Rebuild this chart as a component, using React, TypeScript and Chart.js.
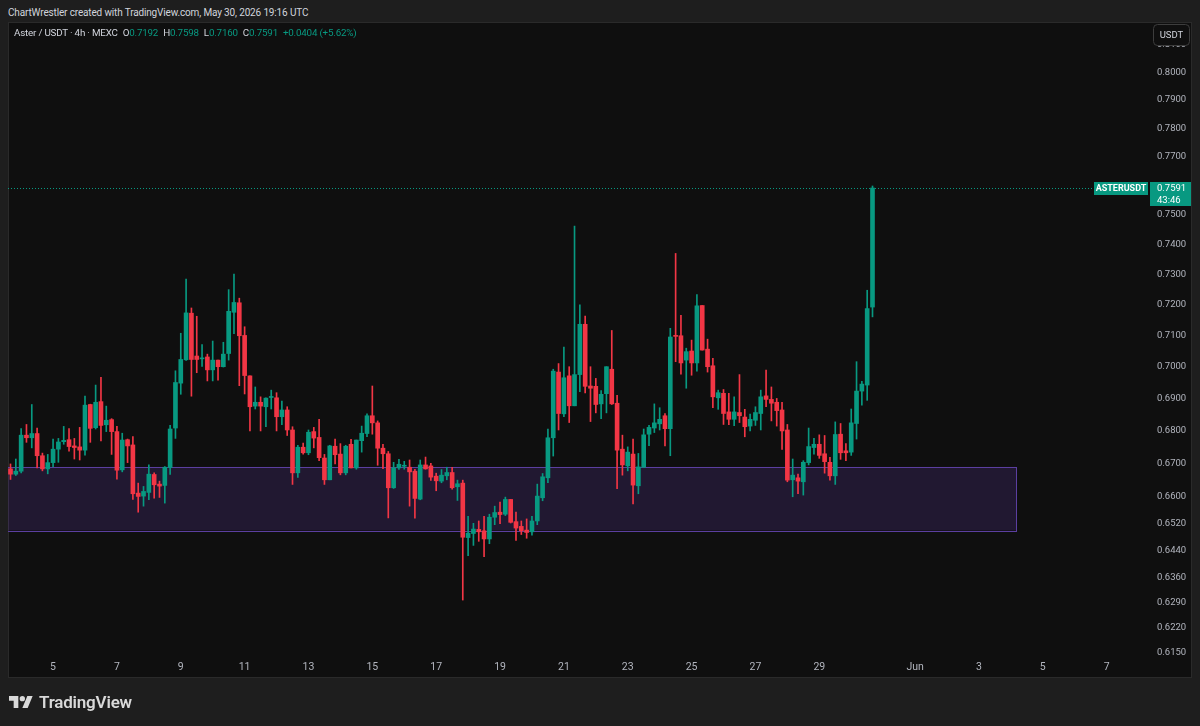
import React, { useEffect, useRef } from "react";
import { Chart, registerables } from "chart.js";

Chart.register(...registerables);

const UP = "#089981";
const DOWN = "#f23645";
const FONT = "Roboto, 'Noto Sans', sans-serif";

// 4h candles, ASTER/USDT (MEXC), May 3 16:00 -> May 30 16:00
const opens = [
  0.6683, 0.6667, 0.6676, 0.6786, 0.6778, 0.6791, 0.6723, 0.6683, 0.6702, 0.6743,
  0.6766, 0.6772, 0.6753, 0.675, 0.674, 0.6881, 0.6809, 0.689, 0.6818, 0.6834,
  0.6797, 0.668, 0.6772, 0.6756, 0.661, 0.6601, 0.6612, 0.6666, 0.6637, 0.6633,
  0.6687, 0.6808, 0.6948, 0.7022, 0.7172, 0.7034, 0.7025, 0.7031, 0.699, 0.7021,
  0.7, 0.7042, 0.7175, 0.7206, 0.71, 0.6971, 0.6876, 0.6888, 0.6874, 0.6903,
  0.6902, 0.6843, 0.6864, 0.6802, 0.6671, 0.6749, 0.6732, 0.6797, 0.6779, 0.6716,
  0.665, 0.6752, 0.6728, 0.6671, 0.6758, 0.6686, 0.6769, 0.6791, 0.6846, 0.6824,
  0.6746, 0.6729, 0.6626, 0.6686, 0.6691, 0.6688, 0.6676, 0.6592, 0.6695, 0.6692,
  0.6661, 0.6646, 0.6662, 0.6672, 0.6629, 0.664, 0.6478, 0.649, 0.6502, 0.6498,
  0.6474, 0.6538, 0.6553, 0.6547, 0.6591, 0.6525, 0.6511, 0.65, 0.6495, 0.6527,
  0.6596, 0.6656, 0.6778, 0.6983, 0.6852, 0.6971, 0.6877, 0.6975, 0.7136, 0.6939,
  0.6938, 0.6883, 0.6915, 0.6992, 0.6885, 0.6743, 0.6692, 0.6728, 0.6632, 0.6688,
  0.6789, 0.6808, 0.6821, 0.6846, 0.6806, 0.71, 0.7099, 0.7021, 0.705, 0.7012,
  0.7197, 0.7056, 0.7003, 0.6902, 0.6916, 0.6858, 0.6835, 0.6856, 0.6842, 0.6814,
  0.6832, 0.6853, 0.6908, 0.6897, 0.6888, 0.6864, 0.6802, 0.665, 0.6656, 0.6644,
  0.6702, 0.6748, 0.6758, 0.6729, 0.6703, 0.6662, 0.6789, 0.6738, 0.6734, 0.6822,
  0.6923, 0.6942, 0.7192,
];

const highs = [
  0.6698, 0.6713, 0.6806, 0.6819, 0.6881, 0.6808, 0.6731, 0.6727, 0.6774, 0.6776,
  0.6813, 0.6806, 0.6776, 0.681, 0.6907, 0.6882, 0.6942, 0.6966, 0.6876, 0.6837,
  0.6813, 0.6792, 0.6774, 0.6782, 0.664, 0.663, 0.6695, 0.6671, 0.6646, 0.669,
  0.6816, 0.6987, 0.7107, 0.7284, 0.7189, 0.7162, 0.7071, 0.704, 0.7082, 0.7021,
  0.7078, 0.7249, 0.73, 0.7221, 0.7128, 0.6971, 0.6936, 0.6905, 0.6902, 0.6926,
  0.6918, 0.6892, 0.6874, 0.6812, 0.6755, 0.6762, 0.6802, 0.681, 0.6835, 0.6727,
  0.6755, 0.6774, 0.676, 0.6755, 0.6773, 0.6771, 0.6814, 0.6852, 0.6939, 0.683,
  0.6758, 0.6736, 0.6703, 0.6712, 0.6706, 0.671, 0.6682, 0.671, 0.6719, 0.67,
  0.667, 0.6681, 0.6688, 0.6688, 0.6649, 0.6649, 0.6541, 0.652, 0.6527, 0.6541,
  0.6547, 0.6571, 0.6583, 0.6598, 0.6591, 0.6553, 0.6527, 0.6533, 0.6541, 0.6637,
  0.6669, 0.6805, 0.6992, 0.701, 0.7063, 0.7, 0.7461, 0.7199, 0.7163, 0.7,
  0.6963, 0.6925, 0.7, 0.7116, 0.691, 0.6786, 0.675, 0.6774, 0.673, 0.6805,
  0.6816, 0.6883, 0.6871, 0.6853, 0.7123, 0.7369, 0.7165, 0.7059, 0.7085, 0.7233,
  0.7197, 0.7088, 0.7027, 0.6926, 0.6928, 0.6916, 0.6905, 0.6975, 0.6866, 0.6851,
  0.6874, 0.6926, 0.6989, 0.6936, 0.69, 0.6888, 0.6819, 0.6713, 0.6667, 0.6708,
  0.6808, 0.6776, 0.6787, 0.6785, 0.6718, 0.6827, 0.6822, 0.676, 0.6867, 0.7016,
  0.6954, 0.7247, 0.7598,
];

const lows = [
  0.6651, 0.6663, 0.6671, 0.6764, 0.6747, 0.6686, 0.6677, 0.6668, 0.6689, 0.6703,
  0.6758, 0.6737, 0.6713, 0.671, 0.6725, 0.6764, 0.6805, 0.6768, 0.6797, 0.6727,
  0.6652, 0.6674, 0.6702, 0.6591, 0.6553, 0.6571, 0.659, 0.6595, 0.6597, 0.658,
  0.6666, 0.6776, 0.6913, 0.702, 0.6907, 0.6981, 0.7001, 0.6955, 0.6955, 0.6957,
  0.6999, 0.7021, 0.7106, 0.694, 0.6914, 0.6799, 0.6867, 0.6799, 0.6812, 0.6867,
  0.6799, 0.6818, 0.6785, 0.6636, 0.6657, 0.6728, 0.6726, 0.6747, 0.6708, 0.6636,
  0.665, 0.6698, 0.6665, 0.6665, 0.6686, 0.6682, 0.6734, 0.6781, 0.6789, 0.6694,
  0.6684, 0.6536, 0.6624, 0.6681, 0.6682, 0.6571, 0.6535, 0.659, 0.6682, 0.6648,
  0.6617, 0.6641, 0.665, 0.6622, 0.6588, 0.6297, 0.6425, 0.6455, 0.6467, 0.6422,
  0.646, 0.6516, 0.6519, 0.6543, 0.6521, 0.647, 0.6487, 0.6476, 0.6485, 0.6516,
  0.6587, 0.6641, 0.6722, 0.6802, 0.6843, 0.6825, 0.6877, 0.6921, 0.6917, 0.6828,
  0.6855, 0.6837, 0.6855, 0.6881, 0.6623, 0.6664, 0.6677, 0.6578, 0.6608, 0.6688,
  0.6754, 0.6794, 0.6802, 0.6753, 0.6723, 0.7016, 0.6976, 0.6932, 0.6973, 0.6986,
  0.7053, 0.6983, 0.6871, 0.6866, 0.6819, 0.6818, 0.6815, 0.6825, 0.6781, 0.6799,
  0.6816, 0.6802, 0.6874, 0.683, 0.6814, 0.6742, 0.6644, 0.6599, 0.6608, 0.6604,
  0.6695, 0.6728, 0.6715, 0.667, 0.6649, 0.6636, 0.6712, 0.6708, 0.6724, 0.6774,
  0.6879, 0.6894, 0.716,
];

const closes = [
  0.6667, 0.6676, 0.6786, 0.6778, 0.6791, 0.6723, 0.6683, 0.6702, 0.6743, 0.6765,
  0.677, 0.6751, 0.6748, 0.674, 0.6879, 0.6807, 0.6888, 0.6816, 0.6832, 0.6797,
  0.6679, 0.6771, 0.6753, 0.6608, 0.66, 0.6615, 0.6667, 0.6635, 0.6631, 0.6688,
  0.6805, 0.695, 0.7023, 0.7173, 0.7023, 0.7023, 0.7027, 0.699, 0.7021, 0.7,
  0.704, 0.7178, 0.7207, 0.7099, 0.6972, 0.6874, 0.6888, 0.6876, 0.6901, 0.6905,
  0.6843, 0.6864, 0.6802, 0.6671, 0.6749, 0.6732, 0.6795, 0.6777, 0.6717, 0.665,
  0.6753, 0.6726, 0.6671, 0.6752, 0.6686, 0.6771, 0.6792, 0.6846, 0.6824, 0.6746,
  0.6729, 0.6626, 0.6686, 0.6697, 0.6692, 0.6674, 0.6594, 0.6695, 0.6683, 0.6658,
  0.6647, 0.6664, 0.6672, 0.6626, 0.6638, 0.6479, 0.6491, 0.6503, 0.6495, 0.6474,
  0.6538, 0.6552, 0.6546, 0.6591, 0.6523, 0.6506, 0.6498, 0.6493, 0.6527, 0.6601,
  0.6659, 0.6778, 0.6986, 0.6853, 0.6965, 0.6877, 0.6975, 0.7136, 0.6938, 0.6932,
  0.6881, 0.6913, 0.7, 0.6883, 0.674, 0.6695, 0.6734, 0.6634, 0.6689, 0.6787,
  0.681, 0.6824, 0.6835, 0.6806, 0.7095, 0.7097, 0.7012, 0.7048, 0.7012, 0.7196,
  0.7053, 0.7, 0.6905, 0.6918, 0.6853, 0.6835, 0.6858, 0.6846, 0.6812, 0.6835,
  0.6856, 0.6905, 0.6897, 0.6885, 0.6862, 0.6799, 0.6649, 0.6664, 0.6646, 0.6703,
  0.6751, 0.6758, 0.6724, 0.6705, 0.6662, 0.6788, 0.6732, 0.6732, 0.6824, 0.6923,
  0.6945, 0.7187, 0.7591,
];

// date ticks (candle index of day start) and their labels
const dateTickIndex = [8, 20, 32, 44, 56, 68, 80, 92, 104, 116, 128, 140, 152, 170, 182, 194, 206];
const dateTickLabels = ["5", "7", "9", "11", "13", "15", "17", "19", "21", "23", "25", "27", "29", "Jun", "3", "5", "7"];

// price axis tick values
const priceTicks = [
  0.615, 0.622, 0.629, 0.636, 0.644, 0.652, 0.66, 0.67, 0.68, 0.69, 0.7, 0.71, 0.72, 0.73, 0.74, 0.75,
  0.77, 0.78, 0.79, 0.8, 0.81,
];

// visible ranges
const indexRange = [-0.47, 213.4];
const priceRange = [0.6142, 0.8155];

// support zone (purple box)
const zonePriceRange = [0.6499, 0.6689];
const zoneIndexRange = [-10, 189.1];

const lastPrice = 0.7591;
const countdown = "43:46";
const symbolLabel = "ASTERUSDT";

const overlayPlugin = {
  id: "tvOverlay",
  beforeDatasetsDraw(chart: any) {
    const { ctx, chartArea, scales } = chart;
    const xs = scales.x;
    const ys = scales.y;
    ctx.save();
    ctx.beginPath();
    ctx.rect(chartArea.left, chartArea.top, chartArea.right - chartArea.left, chartArea.bottom - chartArea.top);
    ctx.clip();
    const x0 = xs.getPixelForValue(zoneIndexRange[0]);
    const x1 = xs.getPixelForValue(zoneIndexRange[1]);
    const y0 = ys.getPixelForValue(zonePriceRange[1]);
    const y1 = ys.getPixelForValue(zonePriceRange[0]);
    ctx.fillStyle = "rgba(103,58,183,0.2)";
    ctx.fillRect(x0, y0, x1 - x0, y1 - y0);
    ctx.strokeStyle = "#5b3fa0";
    ctx.lineWidth = 1;
    ctx.strokeRect(Math.round(x0) + 0.5, Math.round(y0) + 0.5, Math.round(x1 - x0), Math.round(y1 - y0));

    const yl = Math.round(ys.getPixelForValue(lastPrice)) + 0.5;
    ctx.setLineDash([1, 2]);
    ctx.strokeStyle = UP;
    ctx.beginPath();
    ctx.moveTo(chartArea.left, yl);
    ctx.lineTo(chartArea.right, yl);
    ctx.stroke();
    ctx.restore();
  },
  afterDraw(chart: any) {
    const { ctx, scales } = chart;
    const ys = scales.y;
    const y = ys.getPixelForValue(lastPrice);
    const top = Math.round(y - 6);
    ctx.save();
    ctx.fillStyle = UP;
    ctx.fillRect(1094, top, 54, 13);
    ctx.fillRect(1150, top, 41, 24);
    ctx.fillStyle = "#ffffff";
    ctx.textBaseline = "middle";
    ctx.textAlign = "center";
    ctx.font = `bold 9px ${FONT}`;
    ctx.fillText(symbolLabel, 1121, top + 7);
    ctx.textAlign = "left";
    ctx.font = `9.5px ${FONT}`;
    ctx.fillText(lastPrice.toFixed(4), 1157, top + 7);
    ctx.fillText(countdown, 1157, top + 18.5);

    // currency button
    ctx.fillStyle = "#0f0f0f";
    ctx.strokeStyle = "#3d3d3d";
    ctx.lineWidth = 1;
    ctx.beginPath();
    (ctx as any).roundRect(1153.5, 24.5, 36, 21, 4);
    ctx.fill();
    ctx.stroke();
    ctx.fillStyle = "#d1d4dc";
    ctx.textAlign = "center";
    ctx.font = `9.5px ${FONT}`;
    ctx.fillText("USDT", 1171.5, 35.5);
    ctx.restore();
  },
};

export default function App() {
  const ref = useRef<HTMLCanvasElement>(null);

  useEffect(() => {
    const colors = closes.map((c, i) => (c >= opens[i] ? UP : DOWN));
    const chart = new Chart(ref.current as HTMLCanvasElement, {
      type: "bar",
      data: {
        datasets: [
          {
            label: "body",
            data: opens.map((o, i) => ({ x: i, y: [o, closes[i]] })) as any,
            backgroundColor: colors,
            barThickness: 4,
            minBarLength: 1,
            grouped: false,
            order: 0,
          } as any,
          {
            label: "wick",
            data: lows.map((l, i) => ({ x: i, y: [l, highs[i]] })) as any,
            backgroundColor: colors,
            barThickness: 1,
            grouped: false,
            order: 1,
          } as any,
        ],
      },
      options: {
        animation: false,
        responsive: false,
        devicePixelRatio: 1,
        layout: { padding: { left: 8, right: 8, top: 30, bottom: 48 } },
        plugins: { legend: { display: false }, tooltip: { enabled: false } },
        scales: {
          x: {
            type: "linear",
            min: indexRange[0],
            max: indexRange[1],
            offset: false,
            grid: { display: false, drawTicks: false },
            border: { display: false },
            afterBuildTicks: (s: any) => {
              s.ticks = dateTickIndex.map((v) => ({ value: v }));
            },
            afterFit: (s: any) => {
              s.height = 23;
            },
            ticks: {
              autoSkip: false,
              maxRotation: 0,
              minRotation: 0,
              padding: 6,
              color: "#b2b5be",
              font: { family: FONT, size: 10.5 },
              callback: (_v: any, i: number) => dateTickLabels[i],
            },
          },
          y: {
            type: "logarithmic",
            position: "right",
            min: priceRange[0],
            max: priceRange[1],
            bounds: "data",
            grid: { display: false, drawTicks: false },
            border: { display: false },
            afterBuildTicks: (s: any) => {
              s.ticks = priceTicks.map((v) => ({ value: v }));
            },
            afterFit: (s: any) => {
              s.width = 46;
            },
            ticks: {
              autoSkip: false,
              padding: 11,
              crossAlign: "near",
              color: "#b2b5be",
              font: { family: FONT, size: 9.5 },
              callback: (v: any) => Number(v).toFixed(4),
            },
          },
        },
      } as any,
      plugins: [overlayPlugin],
    });
    return () => chart.destroy();
  }, []);

  const labelStyle = { color: "#d1d4dc" };
  const valStyle = { color: UP };

  return (
    <div
      style={{
        position: "absolute",
        left: 0,
        top: 0,
        width: 1200,
        height: 726,
        background: "#1e1e1e",
        overflow: "hidden",
        fontFamily: FONT,
      }}
    >
      <div
        style={{
          position: "absolute",
          left: 8,
          top: 22,
          width: 1184,
          height: 656,
          background: "#0f0f0f",
          boxSizing: "border-box",
          border: "1px solid #2a2a2a",
        }}
      />
      <div
        style={{
          position: "absolute",
          left: 8,
          top: 5,
          fontSize: 10,
          letterSpacing: -0.15,
          lineHeight: "15px",
          color: "#d1d4dc",
          whiteSpace: "nowrap",
        }}
      >
        ChartWrestler created with TradingView.com, May 30, 2026 19:16 UTC
      </div>
      <canvas ref={ref} width={1200} height={726} style={{ position: "absolute", left: 0, top: 0 }} />
      <div
        style={{
          position: "absolute",
          left: 14,
          top: 26,
          fontSize: 9.8,
          letterSpacing: -0.2,
          lineHeight: "14px",
          whiteSpace: "nowrap",
        }}
      >
        <span style={labelStyle}>Aster / USDT · 4h · MEXC</span>
        <span style={{ ...labelStyle, marginLeft: 5 }}>O</span>
        <span style={valStyle}>0.7192</span>
        <span style={{ ...labelStyle, marginLeft: 5 }}>H</span>
        <span style={valStyle}>0.7598</span>
        <span style={{ ...labelStyle, marginLeft: 5 }}>L</span>
        <span style={valStyle}>0.7160</span>
        <span style={{ ...labelStyle, marginLeft: 5 }}>C</span>
        <span style={valStyle}>0.7591</span>
        <span style={{ ...valStyle, marginLeft: 5 }}>+0.0404 (+5.62%)</span>
      </div>
      <div
        style={{
          position: "absolute",
          left: 9,
          top: 693,
          height: 18,
          display: "flex",
          alignItems: "center",
          color: "#d9d9d9",
        }}
      >
        <svg width={24} height={12} viewBox="0 4 36 18" style={{ display: "block" }}>
          <path d="M14 22H7V11H0V4h14v18zM28 22h-8l7.5-18h8L28 22z" fill="#d9d9d9" />
          <circle cx="20" cy="8" r="4" fill="#d9d9d9" />
        </svg>
        <span style={{ marginLeft: 6, fontSize: 17, fontWeight: 600, letterSpacing: -0.2 }}>TradingView</span>
      </div>
    </div>
  );
}
